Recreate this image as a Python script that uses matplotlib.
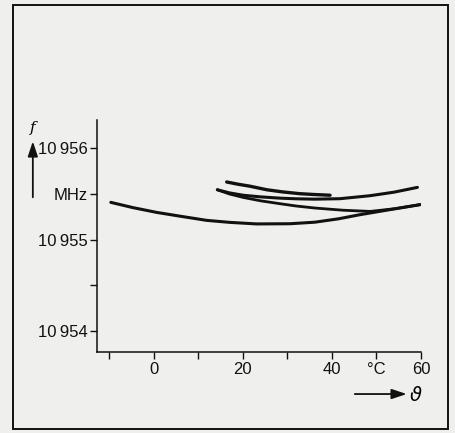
import matplotlib
matplotlib.use('Agg')
import matplotlib.pyplot as plt
from matplotlib.patches import Rectangle

plt.rcParams['font.family'] = ['Liberation Sans Narrow', 'Liberation Sans', 'DejaVu Sans']

# temperature (degC) and frequency (MHz)
temp_a = [-9.6, -4.6, 0.7, 5.9, 11.9, 17.1, 23.1, 30.6, 36.2, 41.5, 46.3, 53.0, 59.8]
freq_a = [10955.408, 10955.350, 10955.298, 10955.257, 10955.211, 10955.189, 10955.172,
          10955.174, 10955.191, 10955.228, 10955.273, 10955.328, 10955.383]

temp_b = [14.3, 17.0, 20.1, 24.0, 28.4, 32.0, 36.2, 42.5, 48.6, 54.2, 59.8]
freq_b = [10955.546, 10955.500, 10955.462, 10955.425, 10955.393, 10955.368, 10955.346,
          10955.322, 10955.309, 10955.339, 10955.383]

temp_c = [14.3, 17.0, 20.1, 24.0, 28.4, 32.0, 36.2, 41.8, 48.6, 54.0, 59.2]
freq_c = [10955.546, 10955.512, 10955.486, 10955.468, 10955.454, 10955.447, 10955.443,
          10955.448, 10955.481, 10955.520, 10955.572]

temp_d = [16.4, 19.0, 21.6, 25.4, 29.0, 32.8, 36.0, 39.6]
freq_d = [10955.631, 10955.606, 10955.585, 10955.546, 10955.522, 10955.503, 10955.494, 10955.486]

x_ticks = [-10, 0, 10, 20, 30, 40, 50, 60]
x_labels = ['', '0', '', '20', '', '40', '°C', '60']
y_ticks = [10954, 10954.5, 10955, 10955.5, 10956]
y_labels = ['10\u2009954', '', '10\u2009955', 'MHz', '10\u2009956']

fig = plt.figure(figsize=(4.56, 4.33), dpi=100, facecolor='#efefed')
ax = fig.add_axes([0.2127, 0.187, 0.7105, 0.536])
ax.set_facecolor('none')

for t, f, w in [(temp_a, freq_a, 2.2), (temp_b, freq_b, 2.0), (temp_c, freq_c, 2.2), (temp_d, freq_d, 2.4)]:
    ax.plot(t, f, color='#111111', lw=w, solid_joinstyle='round', solid_capstyle='round')

ax.set_xlim(-12.7, 60)
ax.set_ylim(10953.77, 10956.31)
ax.set_xticks(x_ticks)
ax.set_xticklabels(x_labels)
ax.set_yticks(y_ticks)
ax.set_yticklabels(y_labels)
ax.tick_params(labelsize=12, length=5, width=1.0, pad=2, colors='#111111')

for s in ['top', 'right']:
    ax.spines[s].set_visible(False)
for s in ['left', 'bottom']:
    ax.spines[s].set_linewidth(1.1)
    ax.spines[s].set_color('#111111')

# axis names with arrows
ax.annotate('', xy=(0.072, 0.680), xytext=(0.072, 0.538), xycoords='figure fraction',
            arrowprops=dict(arrowstyle='-|>,head_length=0.9,head_width=0.3', color='#111111', lw=1.3))
fig.text(0.072, 0.705, 'f', fontsize=11, style='italic', ha='center', va='center',
         family=['DejaVu Serif'])
ax.annotate('', xy=(0.898, 0.090), xytext=(0.772, 0.090), xycoords='figure fraction',
            arrowprops=dict(arrowstyle='-|>,head_length=0.9,head_width=0.3', color='#111111', lw=1.3))
fig.text(0.912, 0.087, r'$\vartheta$', fontsize=14, ha='center', va='center')

# frame around the figure
fig.patches.append(Rectangle((0.0285, 0.009), 0.955, 0.979, transform=fig.transFigure,
                             fill=False, edgecolor='#111111', lw=1.4))

fig.savefig('out.png', dpi=100, facecolor=fig.get_facecolor())
